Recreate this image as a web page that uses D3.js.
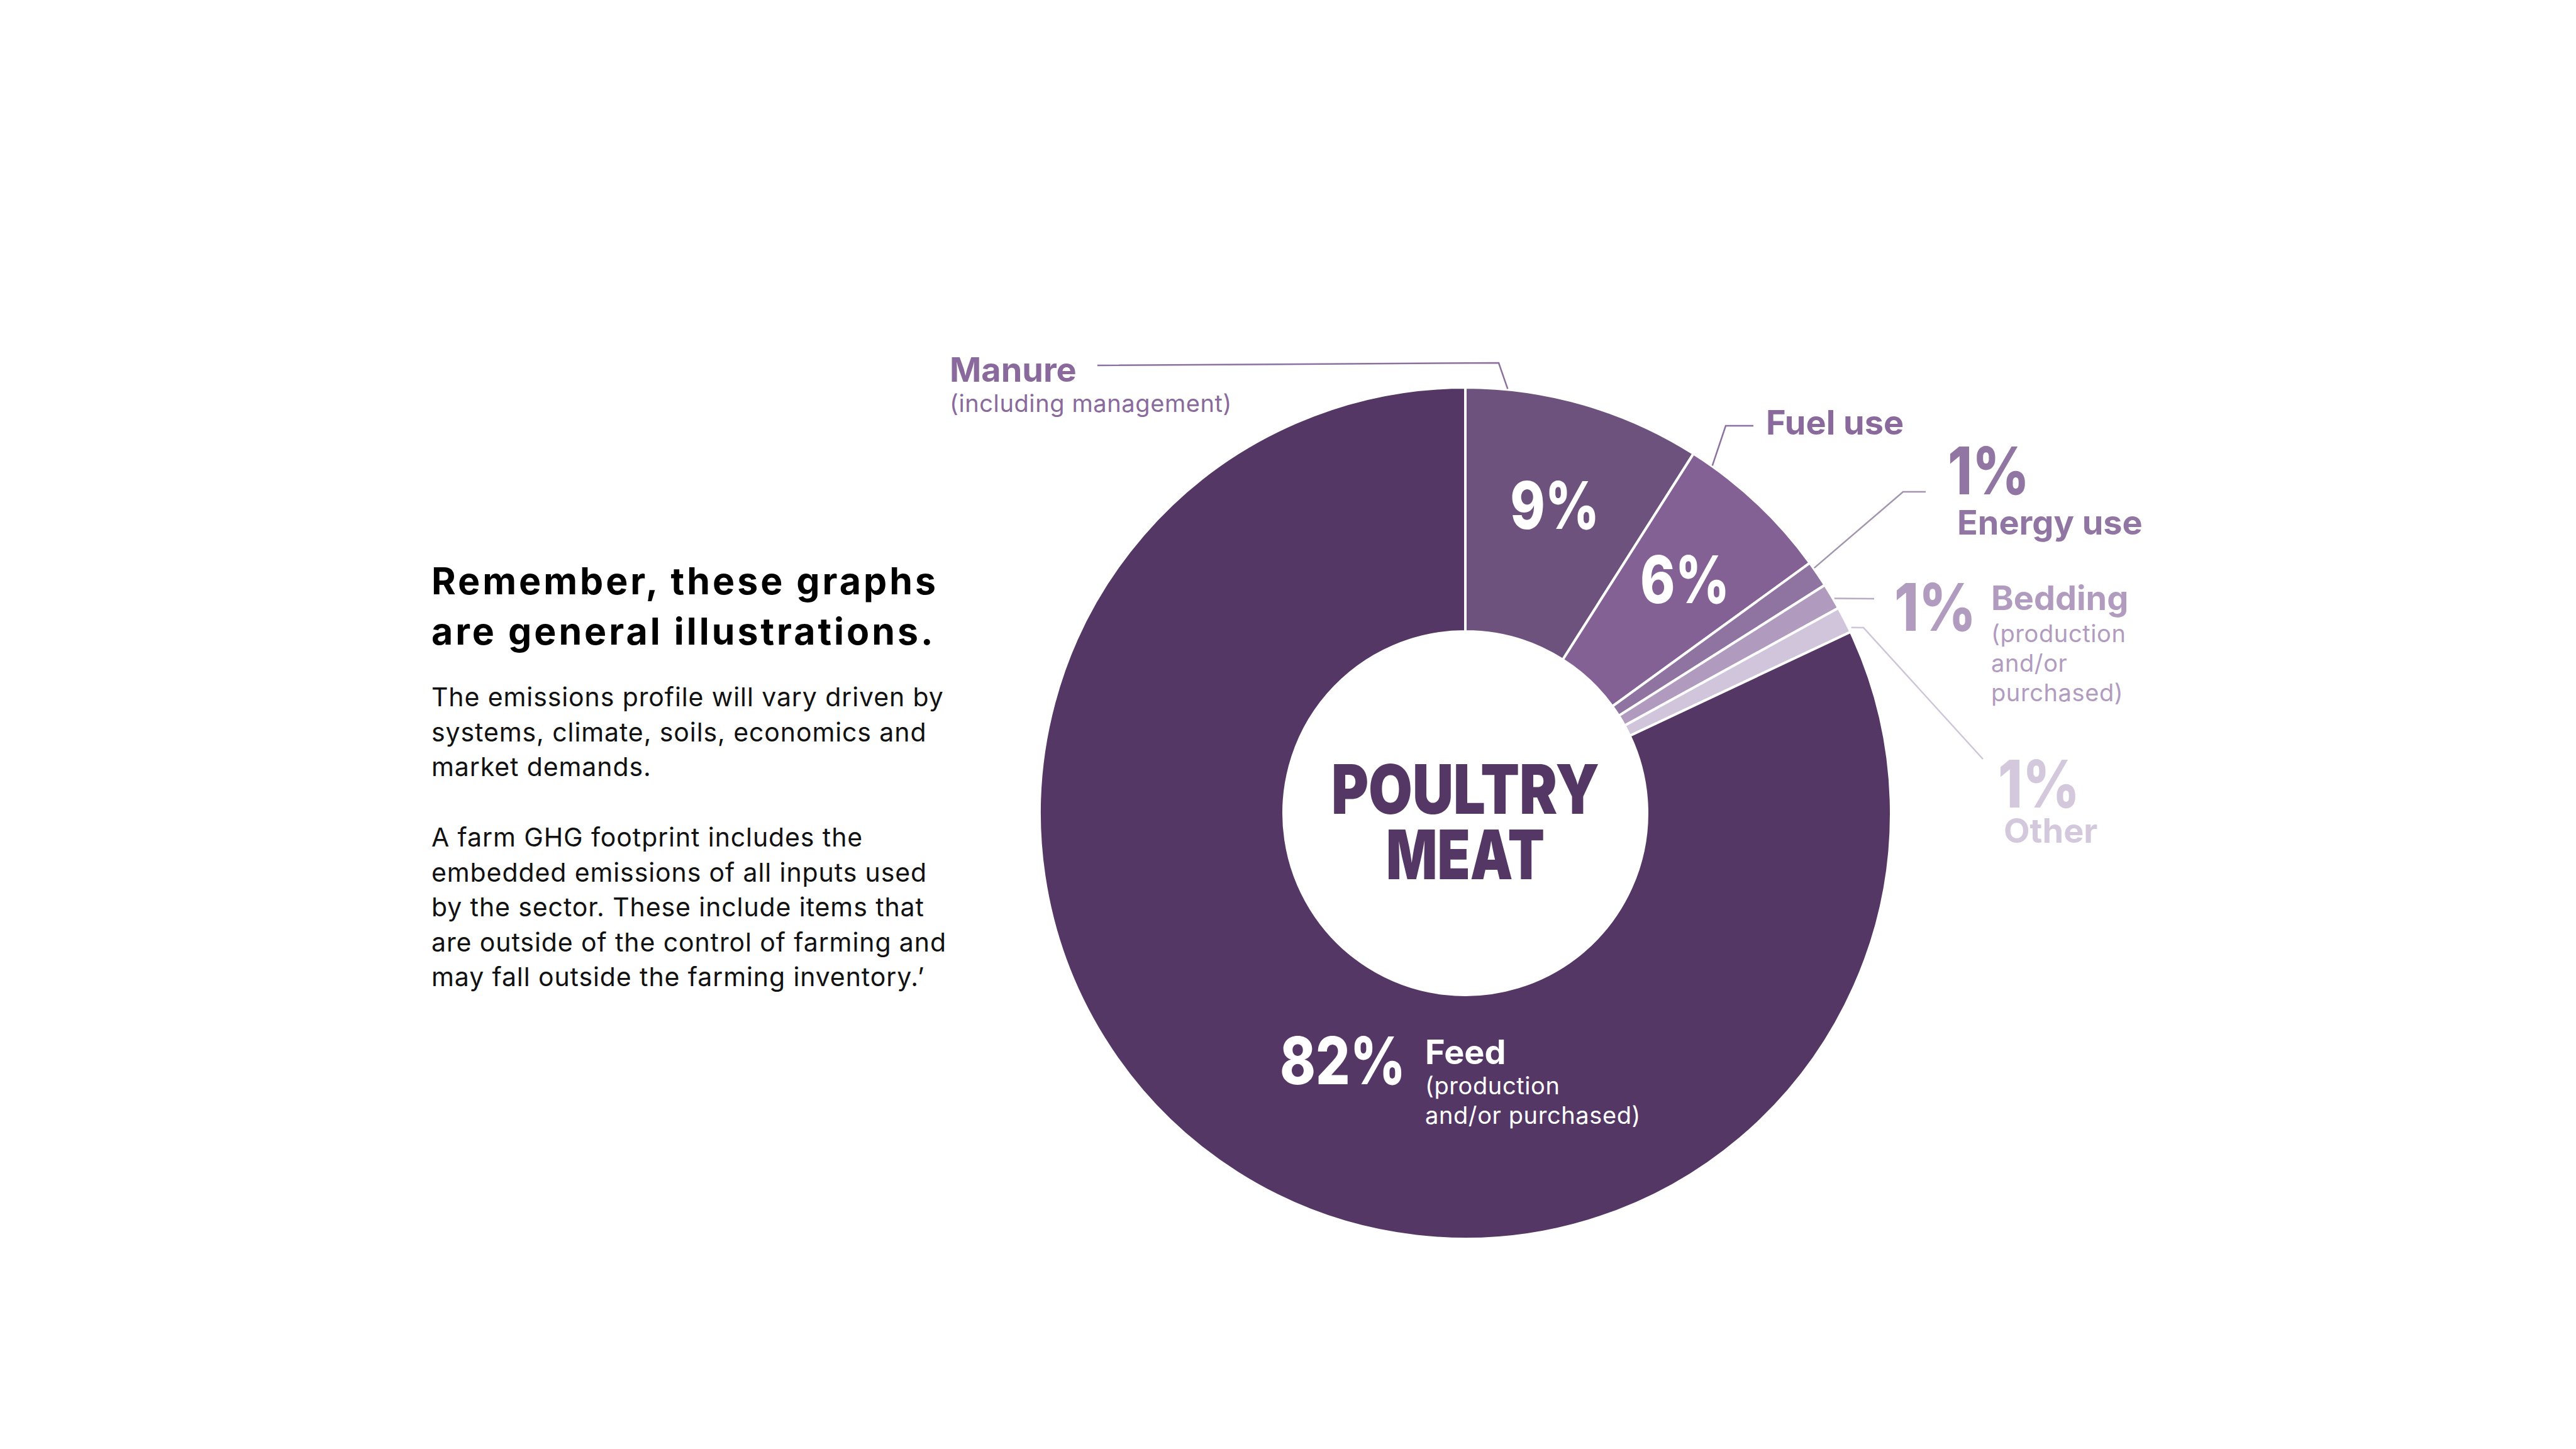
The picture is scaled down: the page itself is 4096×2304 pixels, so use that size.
<!DOCTYPE html>
<html>
<head>
<meta charset="utf-8">
<script src="https://cdn.jsdelivr.net/npm/d3@7"></script>
<style>
  body { margin: 0; background: #fff; }
  text { font-family: Inter, "Noto Sans", sans-serif; }
</style>
</head>
<body>
<div id="chart"></div>
<script>
// data
const categories = ["Manure", "Fuel use", "Energy use", "Bedding", "Other", "Feed"]
const shares = [9, 6, 1, 1, 1, 82]
const pctLabels = ["9%", "6%", "1%", "1%", "1%", "82%"]
const subLabels = [
  ["(including management)"],
  [],
  [],
  ["(production", "and/or", "purchased)"],
  [],
  ["(production", "and/or purchased)"]
]
const centreTitle = ["POULTRY", "MEAT"]
const noteTitle = ["Remember, these graphs", "are general illustrations."]
const noteBody = [
  ["The emissions profile will vary driven by", "systems, climate, soils, economics and", "market demands."],
  ["A farm GHG footprint includes the", "embedded emissions of all inputs used", "by the sector. These include items that",
   "are outside of the control of farming and", "may fall outside the farming inventory.’"]
]

// styles
const fills = ["#6d527d", "#836195", "#8f73a1", "#b09bbe", "#d0c5da", "#553766"]
const textCol = ["#8a6a9c", "#8a6a9c", "#9176a3", "#b19cbf", "#d3c8dc", "#ffffff"]
const lineCol = ["#8c719e", "#8c719e", "#a395ae", "#b9a9c5", "#cfc5d8", null]

const width = 4096, height = 2304
const cx = 2330, cy = 1293
const rOuter = 677, rInner = 289

const svg = d3.select("#chart")
  .append("svg")
    .attr("width", width)
    .attr("height", height)

svg.append("rect").attr("width", width).attr("height", height).attr("fill", "#fff")

const g = svg.append("g").attr("transform", `translate(${cx},${cy})`)

const pie = d3.pie().sort(null).value(d => d)
const arcs = pie(shares)
const arc = d3.arc().innerRadius(rInner).outerRadius(rOuter)
const labelArc = d3.arc().innerRadius(510).outerRadius(510)

g.selectAll("path.slice")
  .data(arcs)
  .join("path")
    .attr("class", "slice")
    .attr("d", arc)
    .attr("fill", (d, i) => fills[i])
    .attr("stroke", "#fff")
    .attr("stroke-width", 4)
    .attr("stroke-linejoin", "round")

// percent labels inside the two biggest outer slices
g.selectAll("text.inpct")
  .data(arcs.slice(0, 2))
  .join("text")
    .attr("class", "inpct")
    .attr("x", d => labelArc.centroid(d)[0])
    .attr("y", d => labelArc.centroid(d)[1] + 38)
    .attr("text-anchor", "middle")
    .attr("fill", "#fff")
    .attr("font-size", 104)
    .attr("font-weight", 800)
    .attr("textLength", 142)
    .attr("lengthAdjust", "spacingAndGlyphs")
    .text((d, i) => pctLabels[i])

// leader lines: anchor angle on the rim (deg), then bend points (page coords)
const leaders = [
  { i: 0, deg: 5.7, r: 678, pts: [[2383, 577], [1745, 581]] },
  { i: 1, deg: 35.4, r: 678, pts: [[2744, 677], [2788, 677]] },
  { i: 2, deg: 54.9, r: 678, pts: [[3026, 782], [3062, 782]] },
  { i: 3, deg: 59.8, r: 679, pts: [[2980, 952]] },
  { i: 4, deg: 64.3, r: 681, pts: [[2963, 998], [3153, 1207]] }
]
const line = d3.line()
svg.selectAll("path.leader")
  .data(leaders)
  .join("path")
    .attr("class", "leader")
    .attr("fill", "none")
    .attr("stroke", d => lineCol[d.i])
    .attr("stroke-width", 2.5)
    .attr("d", d => {
      const p = d3.pointRadial(d.deg * Math.PI / 180, d.r)
      return line([[cx + p[0], cy + p[1]], ...d.pts])
    })

// outside labels
const labelPos = [
  { name: [1510, 607], sub: [1510, 655] },
  { name: [2808, 691] },
  { pct: [3097, 786], name: [3112, 850] },
  { pct: [3012, 1003], name: [3166, 970], sub: [3166, 1021] },
  { pct: [3177, 1284], name: [3186, 1340] },
  { pct: [2035, 1724], name: [2266, 1692], sub: [2266, 1740] }
]

labelPos.forEach((p, i) => {
  // percentage and name share one text element
  const t = svg.append("text")
    .attr("class", "label")
    .attr("fill", textCol[i])
  if (p.pct) {
    t.append("tspan")
      .attr("x", p.pct[0]).attr("y", p.pct[1])
      .attr("font-size", 104)
      .attr("font-weight", 800)
      .attr("textLength", pctLabels[i].length === 3 ? 200 : 130)
      .attr("lengthAdjust", "spacingAndGlyphs")
      .text(pctLabels[i])
  }
  t.append("tspan")
    .attr("x", p.name[0]).attr("y", p.name[1])
    .attr("font-size", 54)
    .attr("font-weight", 700)
    .text(categories[i])
  if (p.sub) {
    subLabels[i].forEach((s, k) => {
      svg.append("text")
        .attr("x", p.sub[0]).attr("y", p.sub[1] + k * 47)
        .attr("fill", textCol[i])
        .attr("font-size", 38)
        .attr("font-weight", 400)
        .attr("letter-spacing", 0.6)
        .text(s)
    })
  }
})

// centre title
svg.append("text")
  .attr("class", "centre")
  .attr("text-anchor", "middle")
  .attr("fill", "#553766")
  .attr("font-size", 108)
  .attr("font-weight", 900)
  .selectAll("tspan")
  .data(centreTitle)
  .join("tspan")
    .attr("x", cx)
    .attr("y", (d, i) => 1294 + i * 104)
    .attr("textLength", (d, i) => i === 0 ? 426 : 252)
    .attr("lengthAdjust", "spacingAndGlyphs")
    .text(d => d)

// side note
svg.selectAll("text.ntitle")
  .data(noteTitle)
  .join("text")
    .attr("class", "ntitle")
    .attr("x", 686)
    .attr("y", (d, i) => 945 + i * 80)
    .attr("fill", "#000")
    .attr("font-size", 59)
    .attr("font-weight", 700)
    .attr("letter-spacing", 4)
    .text(d => d)

const bodyTop = [1123, 1346]
noteBody.forEach((para, pi) => {
  svg.selectAll(`text.nbody${pi}`)
    .data(para)
    .join("text")
      .attr("class", `nbody${pi}`)
      .attr("x", 686)
      .attr("y", (d, i) => bodyTop[pi] + i * 55.5)
      .attr("fill", "#111")
      .attr("font-size", 41)
      .attr("font-weight", 400)
      .attr("letter-spacing", 0.9)
      .text(d => d)
})
</script>
</body>
</html>
